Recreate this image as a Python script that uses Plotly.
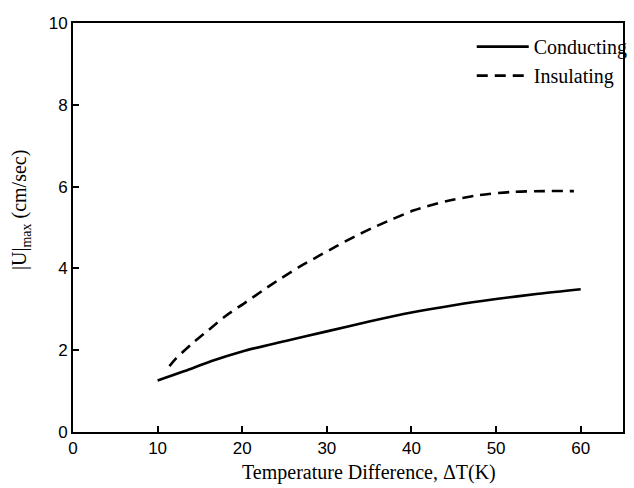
import plotly.graph_objects as go

cond_x = [10, 13.2, 16.3, 20, 25, 30, 35, 40, 45, 50, 55, 60]
cond_y = [1.26, 1.49, 1.73, 1.97, 2.22, 2.46, 2.70, 2.92, 3.10, 3.25, 3.38, 3.49]

ins_x = [11.4, 12.1, 14, 16, 18, 20.4, 22.5, 24.6, 26.7, 29.1, 31.2, 33.3, 35.4, 37.6, 40.3, 44.1, 48, 51.9, 55.7, 59.2]
ins_y = [1.61, 1.78, 2.15, 2.49, 2.83, 3.17, 3.47, 3.76, 4.03, 4.31, 4.55, 4.78, 4.99, 5.19, 5.42, 5.64, 5.79, 5.87, 5.89, 5.89]

x_ticks = [0, 10, 20, 30, 40, 50, 60]
y_ticks = [0, 2, 4, 6, 8, 10]

SERIF = "Liberation Serif, Times New Roman, serif"
SANS = "Liberation Sans, Arial, sans-serif"

fig = go.Figure()
fig.add_trace(go.Scatter(x=cond_x, y=cond_y, mode="lines", name="Conducting",
                         line=dict(color="black", width=2.6, shape="spline", smoothing=0.8)))
fig.add_trace(go.Scatter(x=ins_x, y=ins_y, mode="lines", name="Insulating",
                         line=dict(color="black", width=2.6, dash="11px,7px", shape="spline", smoothing=0.8)))

axis_common = dict(showline=True, linecolor="black", linewidth=2, mirror=True,
                   ticks="inside", ticklen=6, tickwidth=1.5, tickcolor="black",
                   showgrid=False, zeroline=False,
                   tickfont=dict(family=SANS, size=17, color="black"))

fig.update_layout(
    width=634, height=488,
    margin=dict(l=73, r=1, t=23, b=56),
    paper_bgcolor="white", plot_bgcolor="white",
    showlegend=True,
    legend=dict(x=0.725, y=0.99, xanchor="left", yanchor="top",
                bgcolor="rgba(0,0,0,0)",
                font=dict(family=SERIF, size=20, color="black"),
                tracegroupgap=0, itemwidth=52),
    xaxis=dict(range=[0, 65], tickvals=x_ticks, **axis_common),
    yaxis=dict(range=[0, 10], tickvals=y_ticks, **axis_common),
    annotations=[
        dict(text="Temperature Difference, ΔT(K)", xref="paper", yref="paper",
             x=0.538, y=-0.0985, xanchor="center", yanchor="middle", showarrow=False,
             font=dict(family=SERIF, size=20, color="black")),
        dict(text="|U|<sub>max</sub> (cm/sec)", xref="paper", yref="paper",
             x=-0.095, y=0.542, xanchor="center", yanchor="middle", showarrow=False,
             textangle=-90, font=dict(family=SERIF, size=20, color="black")),
    ],
)

fig.write_html("out.html")
